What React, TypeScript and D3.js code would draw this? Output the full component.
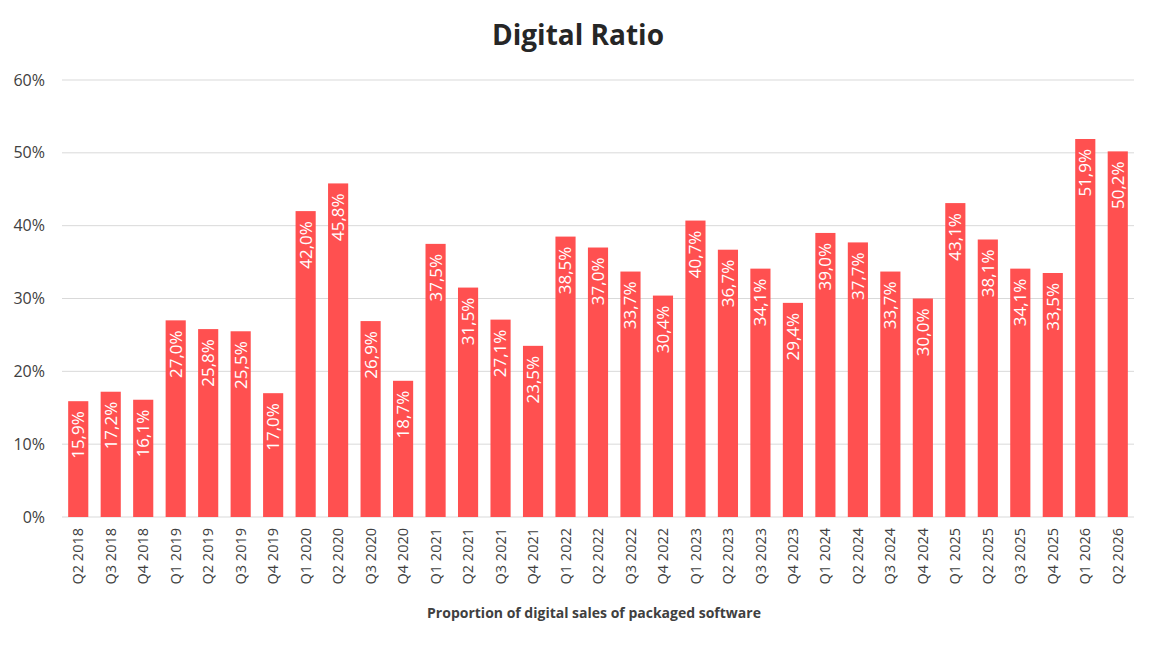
import { useEffect, useRef } from 'react'
import * as d3 from 'd3'

const quarters = [
  'Q2 2018', 'Q3 2018', 'Q4 2018',
  'Q1 2019', 'Q2 2019', 'Q3 2019', 'Q4 2019',
  'Q1 2020', 'Q2 2020', 'Q3 2020', 'Q4 2020',
  'Q1 2021', 'Q2 2021', 'Q3 2021', 'Q4 2021',
  'Q1 2022', 'Q2 2022', 'Q3 2022', 'Q4 2022',
  'Q1 2023', 'Q2 2023', 'Q3 2023', 'Q4 2023',
  'Q1 2024', 'Q2 2024', 'Q3 2024', 'Q4 2024',
  'Q1 2025', 'Q2 2025', 'Q3 2025', 'Q4 2025',
  'Q1 2026', 'Q2 2026',
]

const ratios = [
  15.9, 17.2, 16.1,
  27.0, 25.8, 25.5, 17.0,
  42.0, 45.8, 26.9, 18.7,
  37.5, 31.5, 27.1, 23.5,
  38.5, 37.0, 33.7, 30.4,
  40.7, 36.7, 34.1, 29.4,
  39.0, 37.7, 33.7, 30.0,
  43.1, 38.1, 34.1, 33.5,
  51.9, 50.2,
]

const yTicks = [0, 10, 20, 30, 40, 50, 60]

const W = 1154
const H = 646
const FONT = '"Open Sans", "Noto Sans", sans-serif'

export default function App() {
  const svgRef = useRef<SVGSVGElement>(null)

  useEffect(() => {
    if (!svgRef.current) return
    const svg = d3.select(svgRef.current)
    svg.selectAll('*').remove()

    const margin = { top: 80, right: 20, bottom: 129, left: 62 }
    const innerW = W - margin.left - margin.right
    const innerH = H - margin.top - margin.bottom

    const x = d3.scaleBand<string>().domain(quarters).range([0, innerW]).paddingInner(0.38).paddingOuter(0.19)
    const y = d3.scaleLinear().domain([0, 60]).range([innerH, 0])

    svg.append('rect').attr('width', W).attr('height', H).attr('fill', '#fff')

    svg.append('text')
      .attr('x', W / 2 + 1)
      .attr('y', 45)
      .attr('text-anchor', 'middle')
      .attr('font-family', FONT)
      .attr('font-weight', 700)
      .attr('font-size', 28)
      .attr('fill', '#262626')
      .text('Digital Ratio')

    const g = svg.append('g').attr('transform', `translate(${margin.left},${margin.top})`)

    // gridlines
    g.selectAll('line.grid')
      .data(yTicks)
      .join('line')
      .attr('x1', 0)
      .attr('x2', innerW)
      .attr('y1', d => y(d))
      .attr('y2', d => y(d))
      .attr('stroke', '#d9d9d9')
      .attr('stroke-width', 1)

    g.selectAll('text.ytick')
      .data(yTicks)
      .join('text')
      .attr('x', -17)
      .attr('y', d => y(d))
      .attr('dy', '0.35em')
      .attr('text-anchor', 'end')
      .attr('font-family', FONT)
      .attr('font-size', 16)
      .attr('fill', '#404040')
      .text(d => `${d}%`)

    const data = quarters.map((q, i) => ({ q, v: ratios[i] }))

    g.selectAll('rect.bar')
      .data(data)
      .join('rect')
      .attr('x', d => x(d.q)!)
      .attr('y', d => y(d.v))
      .attr('width', x.bandwidth())
      .attr('height', d => innerH - y(d.v))
      .attr('fill', '#ff5050')

    g.selectAll('text.val')
      .data(data)
      .join('text')
      .attr('transform', d => `translate(${x(d.q)! + x.bandwidth() / 2},${y(d.v) + 10}) rotate(-90)`)
      .attr('dy', '0.35em')
      .attr('text-anchor', 'end')
      .attr('font-family', FONT)
      .attr('font-size', 17)
      .attr('fill', '#fff')
      .text(d => `${d.v.toFixed(1).replace('.', ',')}%`)

    g.selectAll('text.xlab')
      .data(quarters)
      .join('text')
      .attr('transform', d => `translate(${x(d)! + x.bandwidth() / 2},${innerH + 11}) rotate(-90)`)
      .attr('dy', '0.35em')
      .attr('text-anchor', 'end')
      .attr('font-family', FONT)
      .attr('font-size', 14.5)
      .attr('fill', '#404040')
      .text(d => d)

    svg.append('text')
      .attr('x', 594)
      .attr('y', 618)
      .attr('text-anchor', 'middle')
      .attr('font-family', FONT)
      .attr('font-weight', 700)
      .attr('font-size', 14)
      .attr('fill', '#404040')
      .text('Proportion of digital sales of packaged software')
  }, [])

  return (
    <div style={{ margin: -8 }}>
      <svg ref={svgRef} width={W} height={H} style={{ display: 'block' }} />
    </div>
  )
}
